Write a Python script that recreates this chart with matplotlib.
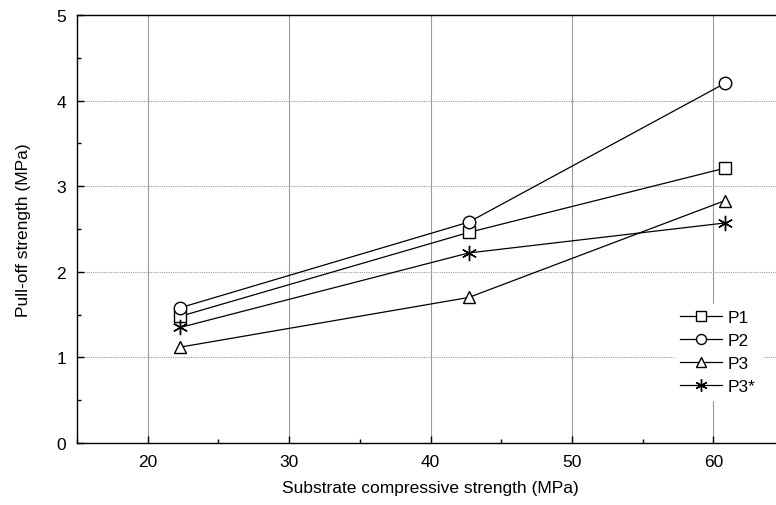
import matplotlib
matplotlib.use("Agg")
from matplotlib import pyplot as plt
from matplotlib.ticker import MultipleLocator

plt.rcParams['font.family'] = ['Liberation Sans', 'DejaVu Sans']
plt.rcParams['font.size'] = 12.5

x = [22.3, 42.7, 60.8]
p1 = [1.48, 2.46, 3.21]
p2 = [1.58, 2.58, 4.20]
p3 = [1.12, 1.70, 2.83]
p3s = [1.35, 2.22, 2.57]

series = [("P1", p1, "s", 9), ("P2", p2, "o", 9), ("P3", p3, "^", 9),
          ("P3*", p3s, (6, 2, 0), 11)]

fig = plt.figure(figsize=(7.76, 5.06), dpi=100)
ax = fig.add_axes([77 / 776, 62 / 506, 707 / 776, 428 / 506])

for name, vals, mk, ms in series:
    ax.plot(x, vals, color="black", lw=0.9, marker=mk, markersize=ms,
            markerfacecolor="white", markeredgecolor="black",
            markeredgewidth=1.0, label=name)

ax.set_xlim(15, 65)
ax.set_ylim(0, 5)
ax.xaxis.set_major_locator(MultipleLocator(10))
ax.xaxis.set_minor_locator(MultipleLocator(5))
ax.yaxis.set_major_locator(MultipleLocator(1))
ax.yaxis.set_minor_locator(MultipleLocator(0.5))
ax.tick_params(which="both", direction="in", top=False, right=False)
ax.tick_params(which="major", length=5, width=1)
ax.tick_params(which="minor", length=3, width=1)
ax.tick_params(axis="x", pad=8)
ax.tick_params(axis="y", pad=8)

ax.xaxis.grid(True, color="#999999", lw=0.8, ls="-")
ax.yaxis.grid(True, color="#999999", lw=0.8, ls=(0, (1, 1)))
ax.set_axisbelow(True)
for s in ax.spines.values():
    s.set_linewidth(1)

ax.set_xlabel("Substrate compressive strength (MPa)", labelpad=8)
ax.set_ylabel("Pull-off strength (MPa)", labelpad=18)

leg = ax.legend(loc="upper left", bbox_to_anchor=(0.832, 0.346), frameon=True,
                edgecolor="white", facecolor="white", framealpha=1,
                fancybox=False, handlelength=2.4, labelspacing=0.45,
                handletextpad=0.35, borderpad=0.35, markerscale=0.8)

fig.savefig("out.png", dpi=100)
